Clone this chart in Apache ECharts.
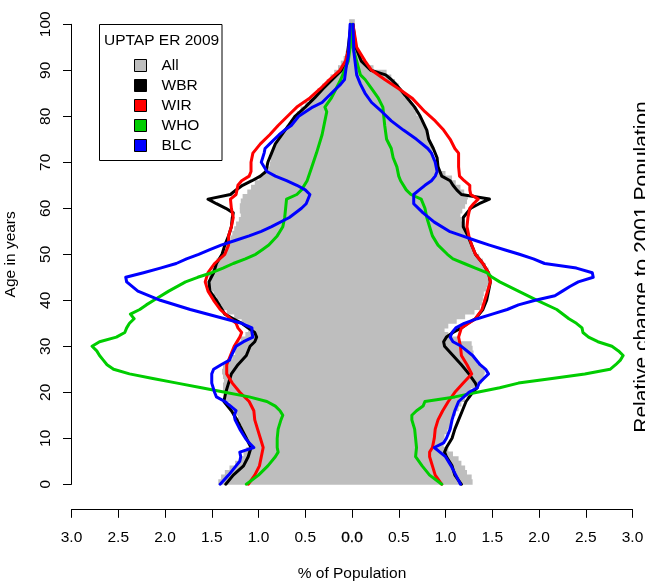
<!DOCTYPE html>
<html>
<head>
<meta charset="utf-8">
<script src="https://cdn.jsdelivr.net/npm/echarts@6/dist/echarts.min.js"></script>
<style>
  html, body { margin: 0; padding: 0; background: #ffffff; }
  #chart { width: 645px; height: 581px; }
</style>
</head>
<body>
<div id="chart"></div>
<script>
// Share of population (%) by single year of age, 0..100 (index = age)
const allLeft = [
  1.43, 1.40, 1.36, 1.31, 1.25, 1.20, 1.16, 1.13, 1.10, 1.11,
  1.14, 1.16, 1.18, 1.20, 1.22, 1.24, 1.27, 1.31, 1.35, 1.37,
  1.38, 1.38, 1.37, 1.38, 1.39, 1.38, 1.33, 1.28, 1.25, 1.24,
  1.23, 1.19, 1.14, 1.11, 1.12, 1.18, 1.26, 1.34, 1.39, 1.42,
  1.45, 1.48, 1.51, 1.53, 1.53, 1.53, 1.50, 1.47, 1.45, 1.41,
  1.38, 1.35, 1.33, 1.30, 1.28, 1.26, 1.24, 1.21, 1.19, 1.20,
  1.20, 1.19, 1.17, 1.12, 1.08, 1.04, 0.99, 0.94, 0.90, 0.88,
  0.87, 0.86, 0.85, 0.83, 0.80, 0.77, 0.74, 0.70, 0.66, 0.63,
  0.59, 0.55, 0.50, 0.46, 0.41, 0.37, 0.32, 0.27, 0.23, 0.19,
  0.15, 0.12, 0.09, 0.07, 0.05, 0.04, 0.03, 0.03, 0.03, 0.03,
  0.03
];
const allRight = [
  1.29, 1.28, 1.23, 1.21, 1.17, 1.14, 1.08, 1.03, 0.98, 0.98,
  0.99, 1.02, 1.05, 1.06, 1.08, 1.11, 1.14, 1.17, 1.21, 1.24,
  1.27, 1.33, 1.39, 1.41, 1.42, 1.39, 1.34, 1.31, 1.30, 1.29,
  1.28, 1.13, 1.03, 0.99, 1.03, 1.12, 1.21, 1.31, 1.37, 1.39,
  1.40, 1.41, 1.44, 1.46, 1.47, 1.48, 1.46, 1.43, 1.40, 1.36,
  1.31, 1.28, 1.26, 1.25, 1.24, 1.21, 1.19, 1.17, 1.16, 1.18,
  1.21, 1.23, 1.24, 1.20, 1.16, 1.11, 1.07, 1.00, 0.94, 0.90,
  0.87, 0.86, 0.86, 0.85, 0.83, 0.82, 0.80, 0.79, 0.77, 0.73,
  0.69, 0.67, 0.64, 0.60, 0.56, 0.53, 0.50, 0.46, 0.42, 0.37,
  0.23, 0.15, 0.09, 0.07, 0.06, 0.05, 0.04, 0.03, 0.03, 0.03,
  0.03
];

// Relative change by group, as [age, value] pairs
const wbrLeft = [[0,1.35],[2,1.27],[4,1.16],[6,1.11],[8,1.08],[10,1.13],[12,1.18],[14,1.23],[16,1.29],[18,1.37],[20,1.35],[22,1.32],[24,1.29],[26,1.22],[28,1.13],[30,1.09],[31,1.04],[32,1.02],[33,1.04],[34,1.11],[35,1.18],[36,1.27],[37,1.36],[38,1.39],[40,1.45],[42,1.52],[44,1.53],[46,1.48],[48,1.45],[50,1.39],[52,1.36],[54,1.32],[56,1.29],[58,1.28],[59,1.27],[60,1.35],[61,1.45],[62,1.54],[63,1.30],[64,1.24],[65,1.17],[66,1.07],[67,0.98],[68,0.92],[70,0.90],[72,0.86],[74,0.82],[76,0.75],[78,0.68],[80,0.61],[82,0.50],[84,0.40],[86,0.31],[88,0.21],[90,0.11],[92,0.06],[95,0.04],[100,0.01]];
const wirLeft = [[0,1.11],[2,1.04],[4,0.99],[6,0.97],[8,0.95],[10,0.98],[12,1.01],[14,1.04],[16,1.05],[18,1.10],[20,1.20],[22,1.28],[24,1.34],[26,1.34],[28,1.30],[30,1.26],[32,1.20],[33,1.18],[34,1.22],[35,1.24],[36,1.30],[38,1.41],[40,1.48],[42,1.54],[44,1.57],[46,1.54],[48,1.47],[50,1.36],[52,1.32],[54,1.32],[56,1.29],[58,1.27],[60,1.29],[62,1.30],[63,1.24],[64,1.23],[65,1.22],[66,1.18],[67,1.10],[68,1.08],[70,1.08],[72,1.06],[74,0.98],[76,0.88],[78,0.79],[80,0.69],[82,0.59],[84,0.45],[86,0.34],[88,0.24],[90,0.13],[92,0.07],[95,0.03],[100,0.01]];
const whoLeft = [[0,1.13],[2,1.00],[4,0.90],[6,0.82],[7,0.79],[8,0.80],[10,0.80],[12,0.79],[14,0.76],[15,0.74],[16,0.77],[17,0.82],[18,0.91],[19,1.10],[20,1.36],[21,1.61],[22,1.87],[23,2.13],[24,2.38],[25,2.55],[26,2.62],[27,2.66],[28,2.70],[29,2.73],[30,2.78],[31,2.70],[32,2.52],[33,2.43],[34,2.41],[35,2.38],[36,2.33],[37,2.37],[38,2.27],[39,2.20],[40,2.12],[42,1.96],[44,1.78],[45,1.65],[46,1.50],[47,1.38],[48,1.27],[49,1.14],[50,1.03],[51,0.96],[52,0.89],[54,0.80],[56,0.74],[58,0.72],[60,0.71],[62,0.70],[63,0.59],[64,0.54],[66,0.48],[69,0.43],[72,0.38],[76,0.32],[79,0.29],[81,0.27],[82,0.29],[84,0.22],[86,0.17],[88,0.12],[90,0.08],[92,0.04],[95,0.02],[100,0.01]];
const blcLeft = [[0,1.41],[2,1.32],[4,1.24],[5,1.20],[6,1.19],[7,1.20],[8,1.05],[9,1.10],[10,1.14],[12,1.20],[14,1.25],[15,1.26],[16,1.24],[18,1.36],[19,1.45],[20,1.47],[22,1.50],[24,1.50],[25,1.48],[26,1.40],[27,1.31],[28,1.29],[30,1.24],[31,1.16],[32,1.06],[33,1.07],[34,1.07],[35,1.18],[36,1.36],[38,1.73],[40,2.05],[42,2.29],[44,2.41],[45,2.42],[46,2.23],[47,2.05],[48,1.88],[49,1.77],[50,1.64],[51,1.52],[52,1.40],[53,1.25],[54,1.10],[55,0.97],[56,0.86],[58,0.67],[60,0.54],[61,0.49],[63,0.45],[64,0.50],[65,0.59],[66,0.70],[67,0.82],[68,0.91],[70,0.97],[72,0.94],[73,0.93],[74,0.88],[76,0.78],[77,0.72],[78,0.65],[80,0.57],[82,0.42],[83,0.32],[85,0.22],[87,0.12],[88,0.08],[91,0.06],[93,0.04],[100,0.02]];

const wbrRight = [[0,1.17],[2,1.10],[4,1.07],[6,1.01],[7,0.99],[8,1.01],[10,1.07],[12,1.10],[14,1.14],[16,1.18],[18,1.22],[20,1.29],[21,1.34],[22,1.32],[24,1.25],[26,1.17],[28,1.08],[30,0.99],[31,0.98],[32,1.01],[33,1.08],[34,1.17],[35,1.24],[36,1.32],[38,1.40],[40,1.44],[42,1.46],[44,1.48],[46,1.46],[48,1.40],[50,1.32],[52,1.28],[54,1.24],[56,1.19],[58,1.19],[60,1.27],[61,1.36],[62,1.47],[63,1.17],[64,1.12],[65,1.08],[66,1.05],[67,0.96],[69,0.92],[71,0.91],[73,0.87],[75,0.82],[77,0.80],[80,0.73],[82,0.67],[85,0.55],[87,0.47],[88,0.42],[89,0.36],[90,0.20],[92,0.10],[95,0.04],[100,0.01]];
const wirRight = [[0,0.96],[2,0.89],[4,0.86],[6,0.83],[7,0.83],[8,0.86],[10,0.88],[12,0.89],[14,0.92],[16,0.97],[18,1.03],[20,1.10],[22,1.19],[24,1.28],[26,1.23],[28,1.17],[30,1.16],[32,1.14],[34,1.17],[36,1.32],[38,1.39],[40,1.42],[42,1.45],[44,1.48],[46,1.46],[48,1.40],[50,1.32],[52,1.28],[54,1.25],[56,1.23],[58,1.24],[60,1.26],[61,1.30],[62,1.35],[63,1.27],[64,1.26],[65,1.26],[66,1.20],[67,1.15],[69,1.14],[72,1.14],[73,1.10],[75,1.05],[77,0.98],[79,0.89],[81,0.78],[84,0.64],[86,0.50],[88,0.35],[90,0.21],[92,0.14],[95,0.05],[100,0.01]];
const whoRight = [[0,0.96],[2,0.83],[4,0.75],[6,0.68],[8,0.69],[10,0.68],[12,0.67],[14,0.64],[15,0.64],[16,0.69],[17,0.76],[18,0.78],[19,1.10],[20,1.34],[21,1.58],[22,1.78],[23,2.14],[24,2.49],[25,2.76],[26,2.82],[27,2.87],[28,2.90],[29,2.85],[30,2.78],[31,2.63],[32,2.53],[33,2.47],[34,2.46],[35,2.40],[36,2.32],[38,2.19],[40,1.98],[42,1.78],[44,1.58],[45,1.50],[46,1.44],[47,1.32],[48,1.20],[49,1.08],[50,1.02],[52,0.92],[54,0.86],[56,0.83],[58,0.80],[60,0.78],[62,0.74],[63,0.63],[64,0.58],[66,0.52],[67,0.50],[69,0.48],[71,0.44],[73,0.42],[75,0.37],[78,0.35],[82,0.33],[84,0.28],[86,0.21],[88,0.14],[89,0.09],[92,0.05],[95,0.01],[100,0.00]];
const blcRight = [[0,1.16],[2,1.11],[4,1.06],[6,1.00],[7,0.94],[8,0.88],[9,0.98],[10,1.01],[12,1.05],[14,1.07],[16,1.10],[18,1.14],[20,1.25],[21,1.34],[22,1.36],[23,1.41],[24,1.46],[25,1.43],[26,1.37],[28,1.29],[30,1.17],[31,1.08],[32,1.05],[33,1.07],[34,1.11],[35,1.20],[36,1.34],[37,1.50],[38,1.66],[39,1.78],[40,1.96],[41,2.17],[42,2.25],[43,2.33],[44,2.42],[45,2.58],[46,2.57],[47,2.40],[48,2.06],[49,1.94],[50,1.79],[51,1.63],[52,1.47],[53,1.32],[54,1.18],[55,1.04],[57,0.88],[59,0.76],[61,0.66],[63,0.66],[64,0.72],[65,0.78],[66,0.85],[67,0.89],[68,0.91],[70,0.89],[72,0.85],[73,0.81],[75,0.69],[77,0.55],[79,0.42],[81,0.32],[83,0.21],[85,0.14],[87,0.09],[89,0.05],[94,0.02],[100,0.01]];

const legendTitle = 'UPTAP ER 2009';
const sideNote = 'Relative change to 2001 Population';

const FONT = '"Liberation Sans", Arial, Helvetica, sans-serif';
const FS = 15.5;
const GREY = '#bebebe';
const COLORS = { All: GREY, WBR: '#000000', WIR: '#ff0000', WHO: '#00cd00', BLC: '#0000ff' };

// left half is drawn on the negative side of the x axis
const toLeft = pairs => pairs.map(([age, v]) => [-v, age]);
const toRight = pairs => pairs.map(([age, v]) => [v, age]);

const barData = [];
allLeft.forEach((v, age) => barData.push([-v, age]));
allRight.forEach((v, age) => barData.push([v, age]));

function lineSeries(name, data) {
  return {
    name, type: 'line', data, showSymbol: false, symbol: 'none', smooth: false,
    lineStyle: { color: COLORS[name], width: 3, join: 'round', cap: 'round' },
    itemStyle: { color: COLORS[name] },
    silent: true, z: 3
  };
}

const chart = echarts.init(document.getElementById('chart'), null, { renderer: 'canvas' });

chart.setOption({
  animation: false,
  textStyle: { fontFamily: FONT },
  grid: {
    left: 71.5, right: 12.5, top: 24.3, bottom: 96.7,
    containLabel: false, outerBoundsMode: 'none'
  },
  xAxis: {
    type: 'value', min: -3, max: 3, interval: 0.5, offset: 25,
    axisLine: { show: true, onZero: false, lineStyle: { color: '#000', width: 1 } },
    axisTick: { show: true, length: 8.5, lineStyle: { color: '#000', width: 1 } },
    splitLine: { show: false },
    axisLabel: {
      margin: 20, color: '#000', fontSize: FS, fontFamily: FONT,
      formatter: v => (Math.abs(v) < 1e-9 ? '{z|0.0}' : Math.abs(v).toFixed(1)),
      rich: { z: { fontSize: FS, fontFamily: FONT, color: '#000', textBorderColor: '#000', textBorderWidth: 0.3 } }
    },
    name: '% of Population', nameLocation: 'middle', nameGap: 56,
    nameTextStyle: { color: '#000', fontSize: FS, fontFamily: FONT }
  },
  yAxis: {
    type: 'value', min: 0, max: 100, interval: 10,
    axisLine: { show: true, onZero: false, lineStyle: { color: '#000', width: 1 } },
    axisTick: { show: true, length: 8.5, lineStyle: { color: '#000', width: 1 } },
    splitLine: { show: false },
    axisLabel: { rotate: 90, margin: 18, color: '#000', fontSize: FS, fontFamily: FONT },
    name: 'Age in years', nameLocation: 'middle', nameRotate: 90, nameGap: 53,
    nameTextStyle: { color: '#000', fontSize: FS, fontFamily: FONT }
  },
  legend: {
    orient: 'vertical', left: 134, top: 57.5, padding: 0,
    itemWidth: 12, itemHeight: 12, itemGap: 4,
    selectedMode: false,
    textStyle: { fontSize: FS, fontFamily: FONT, color: '#000', padding: [0, 0, 0, 10] },
    data: ['All', 'WBR', 'WIR', 'WHO', 'BLC'].map(n => ({
      name: n, icon: 'rect',
      itemStyle: { color: COLORS[n], borderColor: '#000', borderWidth: 1 }
    }))
  },
  graphic: [
    { type: 'rect', silent: true, shape: { x: 99.5, y: 24.5, width: 122.5, height: 136 },
      style: { fill: null, stroke: '#000', lineWidth: 1 } },
    { type: 'text', silent: true, x: 104, y: 41,
      style: { text: legendTitle, fill: '#000', font: FS + 'px ' + FONT, verticalAlign: 'middle', align: 'left' } },
    { type: 'text', silent: true, x: 632, y: 267, rotation: Math.PI / 2,
      style: { text: sideNote, fill: '#000', font: '21px ' + FONT, verticalAlign: 'top', align: 'center' } }
  ],
  series: [
    {
      name: 'All', type: 'custom', data: barData, clip: false, silent: true, z: 1,
      itemStyle: { color: GREY },
      encode: { x: 0, y: 1 },
      renderItem: (params, api) => {
        const v = api.value(0), age = api.value(1);
        const base = api.coord([0, age]);
        const tip = api.coord([v, age + 1]);
        return {
          type: 'rect',
          shape: {
            x: Math.min(base[0], tip[0]), y: tip[1] - 0.5,
            width: Math.abs(tip[0] - base[0]), height: base[1] - tip[1] + 1
          },
          style: { fill: GREY, stroke: null }
        };
      }
    },
    lineSeries('WBR', toLeft(wbrLeft)),
    lineSeries('WBR', toRight(wbrRight)),
    lineSeries('WIR', toLeft(wirLeft)),
    lineSeries('WIR', toRight(wirRight)),
    lineSeries('WHO', toLeft(whoLeft)),
    lineSeries('WHO', toRight(whoRight)),
    lineSeries('BLC', toLeft(blcLeft)),
    lineSeries('BLC', toRight(blcRight))
  ]
});
</script>
</body>
</html>
